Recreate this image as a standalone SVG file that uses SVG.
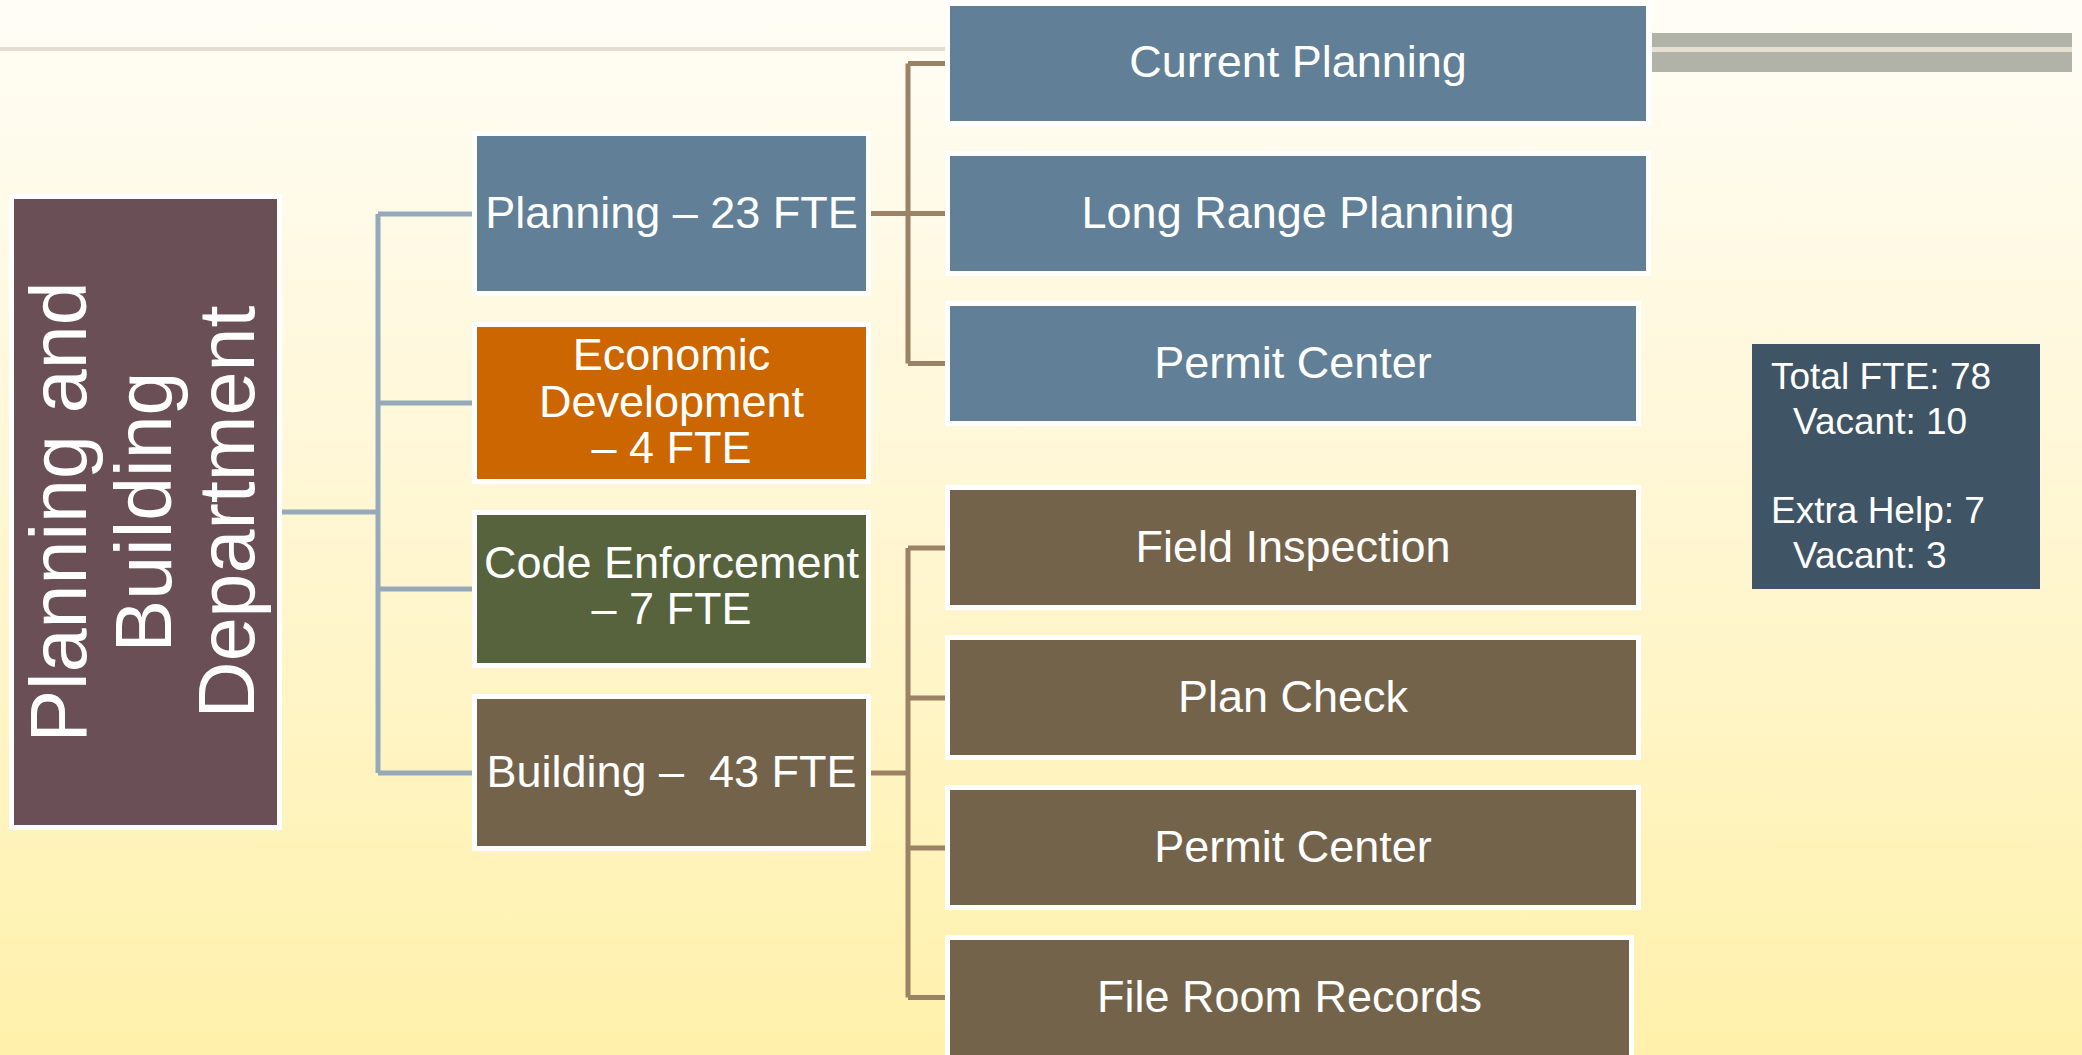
<svg xmlns="http://www.w3.org/2000/svg" width="2082" height="1055" viewBox="0 0 2082 1055">
<defs>
<linearGradient id="bg" x1="0" y1="0" x2="0" y2="1">
<stop offset="0" stop-color="#fffdf6"/>
<stop offset="0.5" stop-color="#fff6d2"/>
<stop offset="1" stop-color="#fff1ab"/>
</linearGradient>
<style>
.t{font-family:"Liberation Sans",Arial,sans-serif;fill:#ffffff;font-size:45px;text-anchor:middle}
.ts{font-family:"Liberation Sans",Arial,sans-serif;fill:#ffffff;font-size:37px}
.rt{font-family:"Liberation Sans",Arial,sans-serif;fill:#ffffff;font-size:79px;text-anchor:middle}
.w{fill:#ffffff}
.blue{fill:#617f96}
.brown{fill:#74634b}
.orange{fill:#cc6600}
.green{fill:#56633c}
.root{fill:#6b4f56}
.tot{fill:#3f5566}
.cb{stroke:#94aaba;stroke-width:5;fill:none}
.cr{stroke:#9b8264;stroke-width:5;fill:none}
</style>
</defs>
<rect x="0" y="0" width="2082" height="1055" fill="url(#bg)"/>
<g id="decor">
<rect x="0" y="47" width="945" height="4" fill="#e2ddd0"/>
<rect x="1652" y="33" width="420" height="39" fill="#b1b3a9"/>
<rect x="1652" y="47" width="420" height="5" fill="#e6e0d3"/>
</g>
<g id="connectors">
<path class="cb" d="M282 512H378M378 214V773M378 214H472M378 403H472M378 589H472M378 773H472"/>
<path class="cr" d="M871 213.5H945M908 63.5V363.5M908 63.5H945M908 363.5H945"/>
<path class="cr" d="M871 773H908M908 548V997.5M908 548H945M908 698H945M908 848H945M908 997.5H945"/>
</g>
<g id="root">
<rect class="w" x="9" y="194" width="273" height="636"/>
<rect class="root" x="14" y="199" width="263" height="626"/>
<text class="rt" transform="translate(86,512) rotate(-90)">Planning and</text>
<text class="rt" transform="translate(171,512) rotate(-90)">Building</text>
<text class="rt" transform="translate(254,512) rotate(-90)">Department</text>
</g>
<g id="planning">
<rect class="w" x="472" y="131" width="399" height="165"/>
<rect class="blue" x="477" y="136" width="389" height="155"/>
<text class="t" x="671.5" y="228">Planning – 23 FTE</text>
</g>
<g id="econ">
<rect class="w" x="472" y="322" width="399" height="162"/>
<rect class="orange" x="477" y="327" width="389" height="152"/>
<text class="t" x="671.5" y="370">Economic</text>
<text class="t" x="671.5" y="417">Development</text>
<text class="t" x="671.5" y="463">– 4 FTE</text>
</g>
<g id="code">
<rect class="w" x="472" y="510" width="399" height="158"/>
<rect class="green" x="477" y="515" width="389" height="148"/>
<text class="t" x="671.5" y="578">Code Enforcement</text>
<text class="t" x="671.5" y="624">– 7 FTE</text>
</g>
<g id="building">
<rect class="w" x="472" y="694" width="399" height="157"/>
<rect class="brown" x="477" y="699" width="389" height="147"/>
<text class="t" x="671.5" y="787" xml:space="preserve">Building –  43 FTE</text>
</g>
<g id="current-planning">
<rect class="w" x="945" y="1" width="706" height="125"/>
<rect class="blue" x="950" y="6" width="696" height="115"/>
<text class="t" x="1298" y="77">Current Planning</text>
</g>
<g id="long-range">
<rect class="w" x="945" y="151" width="706" height="125"/>
<rect class="blue" x="950" y="156" width="696" height="115"/>
<text class="t" x="1298" y="228">Long Range Planning</text>
</g>
<g id="permit-center-planning">
<rect class="w" x="945" y="301" width="696" height="125"/>
<rect class="blue" x="950" y="306" width="686" height="115"/>
<text class="t" x="1293" y="378">Permit Center</text>
</g>
<g id="field-inspection">
<rect class="w" x="945" y="485" width="696" height="125"/>
<rect class="brown" x="950" y="490" width="686" height="115"/>
<text class="t" x="1293" y="562">Field Inspection</text>
</g>
<g id="plan-check">
<rect class="w" x="945" y="635" width="696" height="125"/>
<rect class="brown" x="950" y="640" width="686" height="115"/>
<text class="t" x="1293" y="712">Plan Check</text>
</g>
<g id="permit-center-building">
<rect class="w" x="945" y="785" width="696" height="125"/>
<rect class="brown" x="950" y="790" width="686" height="115"/>
<text class="t" x="1293" y="862">Permit Center</text>
</g>
<g id="file-room">
<rect class="w" x="945" y="935" width="689" height="130"/>
<rect class="brown" x="950" y="940" width="679" height="125"/>
<text class="t" x="1289.5" y="1012">File Room Records</text>
</g>
<g id="totals">
<rect class="tot" x="1752" y="344" width="288" height="245"/>
<text class="ts" x="1771" y="389">Total FTE: 78</text>
<text class="ts" x="1793" y="434">Vacant: 10</text>
<text class="ts" x="1771" y="523">Extra Help: 7</text>
<text class="ts" x="1793" y="568">Vacant: 3</text>
</g>
</svg>
